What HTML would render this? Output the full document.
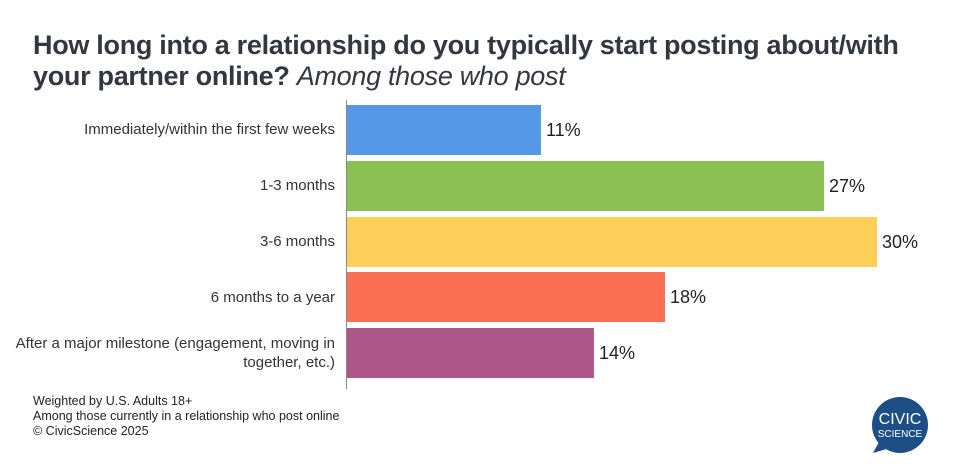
<!DOCTYPE html>
<html><head><style>
body{margin:0;width:966px;height:464px;background:#fff;font-family:"Liberation Sans",Arial,sans-serif;position:relative;overflow:hidden}
.t{position:absolute;left:33px;top:30px;font-size:27px;font-weight:bold;color:#333840;line-height:31px;letter-spacing:-0.3px;white-space:nowrap}
.t i{font-weight:normal}
.lab{position:absolute;right:631px;font-size:15px;color:#333;text-align:right;line-height:19px;white-space:nowrap}
.bar{position:absolute;left:347px;height:50px}
.v{position:absolute;font-size:18px;color:#222}
.n{position:absolute;left:33px;top:394px;font-size:12.5px;color:#222;line-height:15px}
</style></head><body>
<div class="t">How long into a relationship do you typically start posting about/with<br>your partner online? <i>Among those who post</i></div>
<div style="position:absolute;left:346px;top:100px;width:1px;height:289px;background:#888"></div>
<div class="lab" style="top:120px">Immediately/within the first few weeks</div>
<div class="lab" style="top:176px">1-3 months</div>
<div class="lab" style="top:232px">3-6 months</div>
<div class="lab" style="top:288px">6 months to a year</div>
<div class="lab" style="top:334px">After a major milestone (engagement, moving in<br>together, etc.)</div>
<div class="bar" style="top:105px;width:194px;background:#5599e6"></div>
<div class="bar" style="top:161px;width:477px;background:#8bc152"></div>
<div class="bar" style="top:217px;width:530px;background:#fdce58"></div>
<div class="bar" style="top:272px;width:318px;background:#fa6e52"></div>
<div class="bar" style="top:328px;width:247px;background:#ad578b"></div>
<div class="v" style="left:546px;top:120px">11%</div>
<div class="v" style="left:829px;top:176px">27%</div>
<div class="v" style="left:882px;top:232px">30%</div>
<div class="v" style="left:670px;top:287px">18%</div>
<div class="v" style="left:599px;top:343px">14%</div>
<div class="n">Weighted by U.S. Adults 18+<br>Among those currently in a relationship who post online<br>© CivicScience 2025</div>
<svg style="position:absolute;left:860px;top:390px" width="80" height="70">
<circle cx="40" cy="35" r="28" fill="#1d4f86"/>
<path d="M20 50 L13 63 L30 58 Z" fill="#1d4f86"/>
<text x="40" y="34" text-anchor="middle" font-family="Liberation Sans" font-size="16" fill="#fff">CIVIC</text>
<text x="40" y="47" text-anchor="middle" font-family="Liberation Sans" font-size="10" fill="#fff">SCIENCE</text>
</svg>
</body></html>
